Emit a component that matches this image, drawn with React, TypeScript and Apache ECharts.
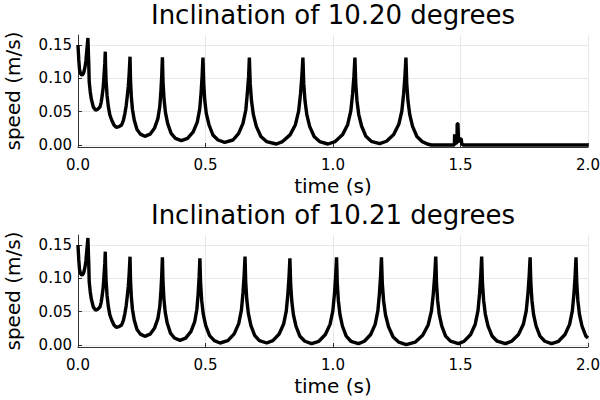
import React, { useEffect, useRef } from "react";
import * as echarts from "echarts";

const FONT = "DejaVu Sans";

const titles = ["Inclination of 10.20 degrees", "Inclination of 10.21 degrees"];
const xLabel = "time (s)";
const yLabel = "speed (m/s)";
const yTicks = [0, 0.05, 0.1, 0.15];

// common start (both runs identical up to t≈0.33 s)
const startPart: number[][] = [
  [0.0, 0.15], [0.003, 0.128], [0.006, 0.113], [0.01, 0.107], [0.016, 0.1045], [0.022, 0.108],
  [0.027, 0.116], [0.031, 0.126], [0.034, 0.1395], [0.037, 0.152], [0.039, 0.1605],
  [0.041, 0.135], [0.042, 0.1245], [0.044, 0.0945], [0.048, 0.08], [0.052, 0.0695], [0.06, 0.057],
  [0.069, 0.052], [0.077, 0.0535], [0.086, 0.057], [0.091, 0.064], [0.095, 0.0745], [0.099, 0.087],
  [0.102, 0.1045], [0.105, 0.122], [0.107, 0.14],
  [0.108, 0.12], [0.11, 0.0975], [0.114, 0.074], [0.119, 0.0575], [0.125, 0.045], [0.132, 0.0375],
  [0.141, 0.03], [0.15, 0.0265], [0.161, 0.0275], [0.171, 0.03], [0.178, 0.037], [0.184, 0.0475],
  [0.189, 0.059], [0.193, 0.0725], [0.197, 0.087], [0.2, 0.1025], [0.202, 0.117], [0.204, 0.1325],
  [0.206, 0.0967], [0.209, 0.0728], [0.2135, 0.0536], [0.2205, 0.0375], [0.2313, 0.0234],
  [0.2446, 0.0163], [0.262, 0.013], [0.2827, 0.0163], [0.3005, 0.0256], [0.3132, 0.0395],
  [0.3208, 0.058], [0.3253, 0.0817], [0.3285, 0.1054], [0.331, 0.1315],
];

const rest1020: number[][] = [
  [0.3335, 0.094], [0.3374, 0.069], [0.3429, 0.049], [0.3517, 0.0321], [0.3652, 0.0174], [0.3819, 0.01],
  [0.405, 0.0065], [0.4296, 0.01], [0.4518, 0.0197], [0.4677, 0.0344], [0.4773, 0.0538], [0.4828, 0.0787],
  [0.4868, 0.1036], [0.49, 0.131],
  [0.493, 0.0925], [0.497, 0.0675], [0.503, 0.0475], [0.514, 0.03], [0.529, 0.015], [0.549, 0.0075],
  [0.575, 0.004], [0.608, 0.0075], [0.63, 0.0175], [0.647, 0.0325], [0.658, 0.0525], [0.664, 0.0775],
  [0.669, 0.1025], [0.672, 0.131],
  [0.6754, 0.092], [0.6804, 0.0663], [0.6878, 0.0455], [0.6993, 0.028], [0.7172, 0.0128], [0.7392, 0.0051],
  [0.778, 0.0015], [0.8022, 0.0051], [0.8316, 0.0152], [0.8526, 0.0305], [0.8652, 0.0507], [0.8726, 0.0766],
  [0.8778, 0.1025], [0.882, 0.131],
  [0.8853, 0.092], [0.8902, 0.0663], [0.8973, 0.0455], [0.9085, 0.028], [0.9259, 0.0128], [0.9473, 0.0051],
  [0.98, 0.0015], [1.0085, 0.0051], [1.037, 0.0152], [1.0574, 0.0305], [1.0697, 0.0507], [1.0768, 0.0766],
  [1.0819, 0.1025], [1.086, 0.131],
  [1.0892, 0.092], [1.094, 0.0665], [1.101, 0.0457], [1.112, 0.0285], [1.129, 0.013], [1.15, 0.0056],
  [1.183, 0.002], [1.21, 0.0056], [1.238, 0.0157], [1.258, 0.031], [1.27, 0.051], [1.277, 0.077],
  [1.282, 0.1025], [1.286, 0.131],
  [1.2892, 0.092], [1.294, 0.0663], [1.301, 0.0455], [1.312, 0.028], [1.329, 0.0128], [1.35, 0.005],
  [1.37, 0.0015], [1.385, 0], [1.476, 0], [1.477, 0.016], [1.479, 0.016], [1.48, 0.003], [1.486, 0.003],
  [1.487, 0.032], [1.49, 0.032], [1.492, 0.01], [1.496, 0.004], [1.5, 0.009], [1.503, 0.009],
  [1.505, 0.002], [1.51, 0], [2.0, 0],
];

const rest1021: number[][] = [
  [0.3334, 0.0942], [0.3369, 0.0693], [0.342, 0.0493], [0.3501, 0.0325], [0.3626, 0.0178], [0.378, 0.0105],
  [0.4, 0.007], [0.4221, 0.0104], [0.4427, 0.02], [0.4574, 0.0346], [0.4662, 0.0537], [0.4714, 0.0783],
  [0.4751, 0.1029], [0.478, 0.13],
  [0.4808, 0.0919], [0.4851, 0.0665], [0.4913, 0.0462], [0.501, 0.029], [0.516, 0.014], [0.5346, 0.0066],
  [0.557, 0.003], [0.5877, 0.0066], [0.6125, 0.0167], [0.6302, 0.032], [0.6408, 0.0522], [0.647, 0.0781],
  [0.6515, 0.104], [0.655, 0.1325],
  [0.6578, 0.0937], [0.662, 0.0678], [0.6682, 0.047], [0.6779, 0.0295], [0.6928, 0.0143], [0.7113, 0.0066],
  [0.74, 0.003], [0.7641, 0.0066], [0.7888, 0.0165], [0.8064, 0.0314], [0.8169, 0.0513], [0.8231, 0.0767],
  [0.8275, 0.1021], [0.831, 0.13],
  [0.8339, 0.0916], [0.8383, 0.066], [0.8447, 0.0455], [0.8548, 0.0282], [0.8703, 0.0131], [0.8896, 0.0056],
  [0.916, 0.002], [0.9445, 0.0056], [0.9701, 0.0157], [0.9884, 0.031], [0.9994, 0.0512], [1.0058, 0.0771],
  [1.0103, 0.103], [1.014, 0.1315],
  [1.0168, 0.092], [1.021, 0.0668], [1.0272, 0.046], [1.0369, 0.0285], [1.0518, 0.0133], [1.0703, 0.0056],
  [1.1, 0.002], [1.1231, 0.0056], [1.1478, 0.0157], [1.1654, 0.031], [1.1759, 0.0512], [1.1821, 0.0771],
  [1.1865, 0.103], [1.19, 0.1315],
  [1.1934, 0.0922], [1.1985, 0.066], [1.206, 0.045], [1.2177, 0.0274], [1.2358, 0.0119], [1.2582, 0.0042],
  [1.287, 0.0005], [1.3221, 0.0042], [1.3519, 0.0145], [1.3732, 0.0301], [1.386, 0.0507], [1.3934, 0.0771],
  [1.3987, 0.1035], [1.403, 0.1325],
  [1.4059, 0.0934], [1.4102, 0.0673], [1.4165, 0.0464], [1.4264, 0.0288], [1.4417, 0.0134], [1.4606, 0.0057],
  [1.492, 0.002], [1.5146, 0.0057], [1.5398, 0.0158], [1.5578, 0.0312], [1.5686, 0.0516], [1.5749, 0.0777],
  [1.5794, 0.1038], [1.583, 0.1325],
  [1.586, 0.0934], [1.5906, 0.0673], [1.5973, 0.0464], [1.6077, 0.0288], [1.6239, 0.0134], [1.6438, 0.0057],
  [1.676, 0.002], [1.7008, 0.0056], [1.7274, 0.0157], [1.7464, 0.031], [1.7578, 0.0512], [1.7645, 0.0771],
  [1.7692, 0.103], [1.773, 0.1315],
  [1.7759, 0.0927], [1.7802, 0.0668], [1.7865, 0.046], [1.7964, 0.0285], [1.8117, 0.0133], [1.8306, 0.0056],
  [1.857, 0.002], [1.8846, 0.0056], [1.9098, 0.0157], [1.9278, 0.031], [1.9386, 0.0512], [1.9449, 0.0771],
  [1.9494, 0.103], [1.953, 0.1315],
  [1.9559, 0.0927], [1.9602, 0.0668], [1.9665, 0.046], [1.9764, 0.0285], [1.9917, 0.0133], [2.0, 0.0105],
];

const speed1020 = startPart.concat(rest1020);
const speed1021 = startPart.concat(rest1021);
const seriesData = [speed1020, speed1021];

const gridTops = [35, 235];

export default function App() {
  const ref = useRef<HTMLDivElement>(null);
  useEffect(() => {
    if (!ref.current) return;
    const chart = echarts.init(ref.current, undefined, { renderer: "svg" });
    const axisColor = "#333";
    const gridColor = "#e8e8e8";
    const option: any = {
      animation: false,
      backgroundColor: "#fff",
      title: titles.map((t, i) => ({
        text: t,
        left: 333,
        top: gridTops[i] - 33,
        textAlign: "center",
        padding: 0,
        textStyle: { fontSize: 26, fontWeight: "normal", color: "#000", fontFamily: FONT },
      })),
      grid: gridTops.map((top) => ({
        left: 78,
        top,
        width: 510,
        height: 112,
        containLabel: false,
        outerBoundsMode: "none",
      })),
      xAxis: gridTops.map((_, i) => ({
        type: "value",
        gridIndex: i,
        min: 0,
        max: 2,
        interval: 0.5,
        name: xLabel,
        nameLocation: "middle",
        nameGap: 29,
        nameTextStyle: { fontSize: 20, color: "#000", fontFamily: FONT },
        axisLine: { show: true, onZero: false, lineStyle: { color: axisColor, width: 1 } },
        axisTick: { show: true, inside: true, length: 4, lineStyle: { color: axisColor } },
        axisLabel: {
          fontSize: 15,
          color: "#000",
          fontFamily: FONT,
          margin: 10,
          formatter: (v: number) => v.toFixed(1),
        },
        splitLine: { show: true, lineStyle: { color: gridColor, width: 1 } },
      })),
      yAxis: gridTops.map((_, i) => ({
        type: "value",
        gridIndex: i,
        min: -0.003,
        max: 0.165,
        splitNumber: 3,
        name: yLabel,
        nameLocation: "middle",
        nameRotate: 90,
        nameGap: 55,
        nameTextStyle: { fontSize: 20, color: "#000", fontFamily: FONT },
        axisLine: { show: true, onZero: false, lineStyle: { color: axisColor, width: 1 } },
        axisTick: { show: true, inside: true, length: 4, customValues: yTicks, lineStyle: { color: axisColor } },
        axisLabel: {
          fontSize: 15,
          color: "#000",
          fontFamily: FONT,
          margin: 6,
          customValues: yTicks,
          formatter: (v: number) => v.toFixed(2),
        },
        splitLine: { show: true, lineStyle: { color: gridColor, width: 1 } },
      })),
      series: seriesData.map((d, i) => ({
        type: "line",
        xAxisIndex: i,
        yAxisIndex: i,
        data: d,
        showSymbol: false,
        symbol: "none",
        clip: true,
        z: 3,
        lineStyle: { color: "#000", width: 3.4 },
      })),
    };
    chart.setOption(option);
    return () => chart.dispose();
  }, []);
  return (
    <div
      ref={ref}
      style={{ position: "absolute", left: 0, top: 0, width: 600, height: 400, background: "#fff" }}
    />
  );
}
